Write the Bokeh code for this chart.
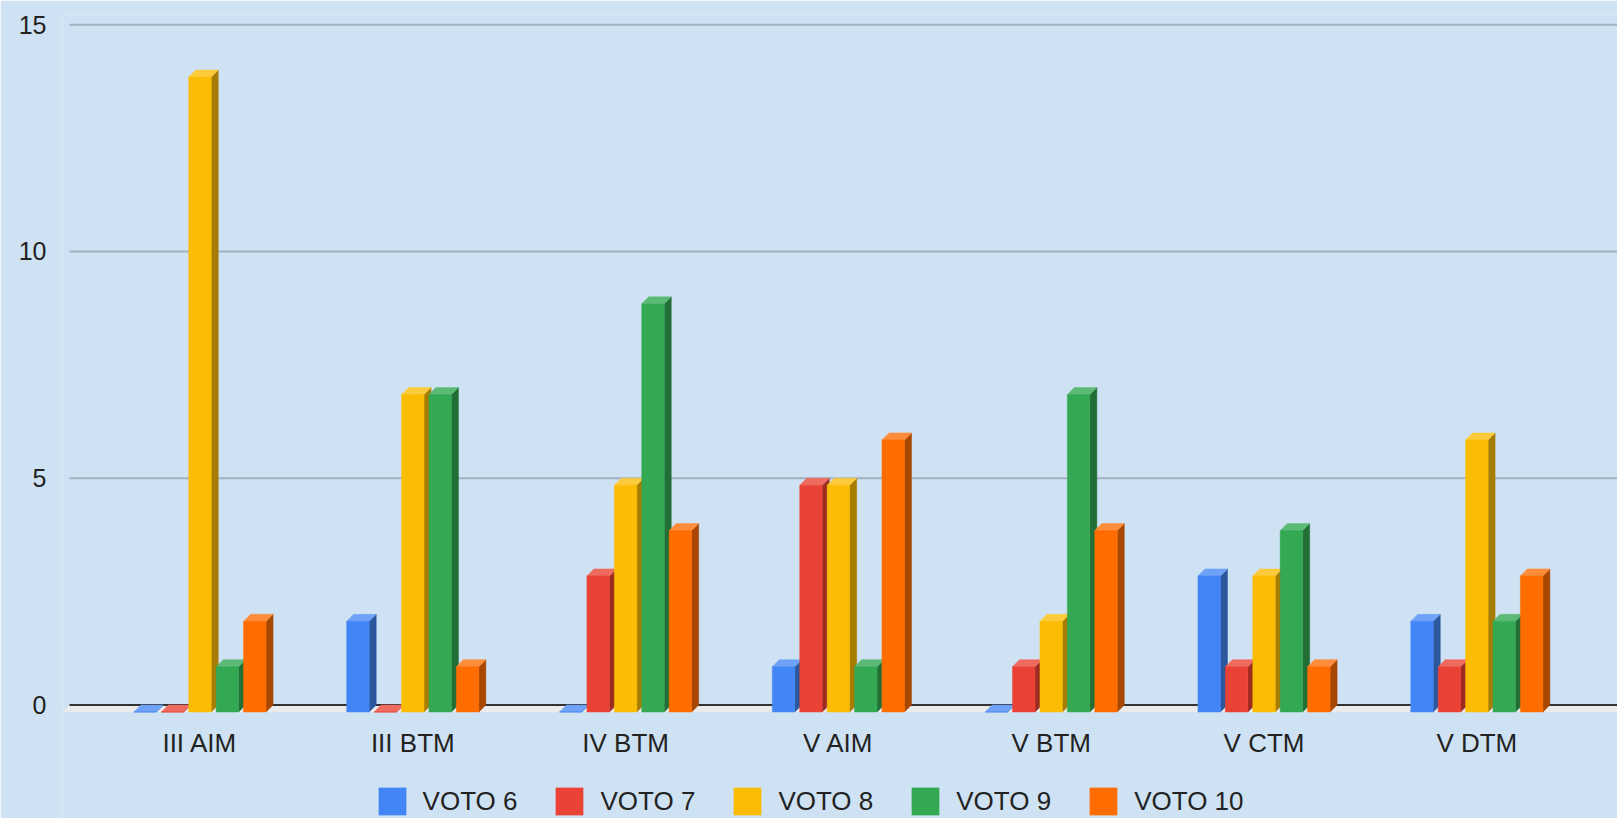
import numpy as np
from bokeh.plotting import figure
from bokeh.models import FixedTicker, Legend, LegendItem, Range1d
from bokeh.core.properties import value
from bokeh.embed import file_html
from bokeh.resources import INLINE

# ---- data ----
classes = ["III AIM", "III BTM", "IV BTM", "V AIM", "V BTM", "V CTM", "V DTM"]
series_names = ["VOTO 6", "VOTO 7", "VOTO 8", "VOTO 9", "VOTO 10"]
voto6 = [0, 2, 0, 1, 0, 3, 2]
voto7 = [0, 0, 3, 5, 1, 1, 1]
voto8 = [14, 7, 5, 5, 2, 3, 6]
voto9 = [1, 7, 9, 1, 7, 4, 2]
voto10 = [2, 1, 4, 6, 4, 1, 3]
y_ticks = [0, 5, 10, 15]

series_values = [voto6, voto7, voto8, voto9, voto10]

# ---- styles ----
front_colors = ["#4285f4", "#ea4335", "#fbbc04", "#34a853", "#ff6d01"]
side_colors = ["#2b579f", "#9c2b22", "#a67c02", "#216e36", "#a84700"]
top_colors = ["#6ea2f6", "#ef6a5f", "#fccb3c", "#5cba76", "#ff8c3a"]
BG = "#cfe2f3"
TEXT = "#222222"
FONT = "Liberation Sans"

PX_X = 212.8   # pixels per category unit
PX_Y = 45.35   # pixels per value unit
DX = 7 / PX_X  # 3D depth offsets
DY = 7 / PX_Y
PITCH = 0.1288
BAR_W = 0.1057
LABEL_Y = -38 / PX_Y   # category labels sit 38px below the back baseline

X_START, X_END = -0.646, 6.661
Y_START, Y_END = -2.503, 15.226

p = figure(width=1617, height=818, output_backend="svg", toolbar_location=None,
           x_range=Range1d(X_START, X_END), y_range=Range1d(Y_START, Y_END),
           min_border_left=62, min_border_right=0, min_border_top=14,
           min_border_bottom=0)
p.background_fill_color = BG
p.border_fill_color = BG
p.outline_line_color = None
p.xgrid.visible = False
p.ygrid.visible = False
p.xaxis.visible = False

# gridlines on the back plane
grid_vals = [t for t in y_ticks if t > 0]
p.segment(x0=[X_START + DX] * len(grid_vals), y0=grid_vals,
          x1=[X_END] * len(grid_vals), y1=grid_vals,
          line_color="#a3b1bf", line_width=2)

# floor
p.patch(x=[X_START, X_START + DX, X_END, X_END], y=[-DY, 0, 0, -DY],
        fill_color="#ebebeb", line_color=None)
p.segment(x0=[X_START + DX], y0=[0], x1=[X_END], y1=[0],
          line_color="#333333", line_width=2)

fronts = []
cats = np.arange(len(classes))
for j, vals in enumerate(series_values):
    v = np.array(vals, dtype=float)
    xc = cats + (j - 2) * PITCH
    xl = xc - BAR_W / 2
    xr = xc + BAR_W / 2
    side_xs = [[a, a + DX, a + DX, a] for a in xr]
    side_ys = [[-DY, 0, h, h - DY] for h in v]
    p.patches(xs=side_xs, ys=side_ys, fill_color=side_colors[j],
              line_color=side_colors[j], line_width=0.5)
    top_xs = [[a, a + DX, b + DX, b] for a, b in zip(xl, xr)]
    top_ys = [[h - DY, h, h, h - DY] for h in v]
    p.patches(xs=top_xs, ys=top_ys, fill_color=top_colors[j],
              line_color=top_colors[j], line_width=0.5)
    r = p.vbar(x=xc, width=BAR_W, bottom=-DY, top=v - DY,
               fill_color=front_colors[j], line_color=front_colors[j],
               line_width=0.5)
    fronts.append(r)

# category labels
p.text(x=cats, y=[LABEL_Y] * len(classes), text=classes,
       text_align="center", text_baseline="middle",
       text_font=value(FONT), text_font_size="26px", text_color=TEXT)

# y axis
p.yaxis.ticker = FixedTicker(ticks=y_ticks)
p.yaxis.axis_line_color = None
p.yaxis.major_tick_line_color = None
p.yaxis.minor_tick_line_color = None
p.yaxis.major_label_standoff = 10
p.yaxis.major_label_text_font = FONT
p.yaxis.major_label_text_font_size = "25px"
p.yaxis.major_label_text_color = TEXT

legend = Legend(
    items=[LegendItem(label=n, renderers=[r]) for n, r in zip(series_names, fronts)],
    orientation="horizontal", location=(312.6, 0),
    padding=0, margin=0, spacing=35, label_standoff=14,
    glyph_width=34, glyph_height=34,
    border_line_color=None, background_fill_alpha=0,
    label_text_font=FONT, label_text_font_size="26px",
    label_text_color=TEXT,
)
p.add_layout(legend, "center")

html = file_html(p, INLINE)
open("out.html", "w").write(html)
